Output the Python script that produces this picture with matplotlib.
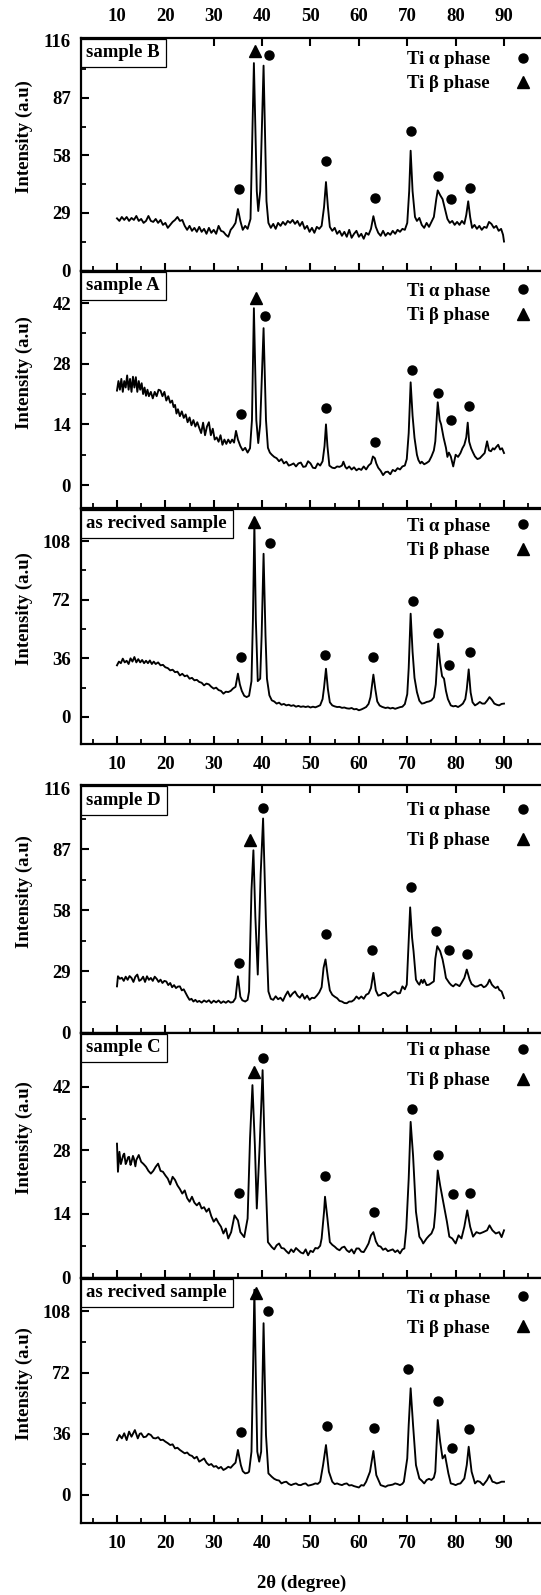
import matplotlib.pyplot as plt
from matplotlib.lines import Line2D

plt.rcParams['font.family'] = ['Liberation Serif', 'DejaVu Serif']
plt.rcParams['font.weight'] = 'bold'
plt.rcParams['font.size'] = 13

# ---- sample B ----
x_b = [10, 10.5, 11, 11.5, 12, 12.5, 13, 13.5, 14, 14.5, 15, 15.5, 16, 16.5, 17, 17.5, 18, 18.5, 19, 19.5,
       20, 20.5, 21, 21.5, 22, 22.5, 23, 23.5, 24, 24.5, 25, 25.5, 26, 26.5, 27, 27.5, 28, 28.5, 29, 29.5,
       30, 30.5, 31, 31.5, 32, 32.5, 33, 33.5, 34, 34.5, 35, 35.5, 36, 36.5, 37, 37.6, 38.3, 38.9, 39.2, 39.6,
       40.3, 40.9, 41.3, 41.8, 42.3, 42.8, 43.3, 43.8, 44.3, 44.8, 45.3, 45.8, 46.3, 46.8, 47.3, 47.8, 48.3, 48.8,
       49.3, 49.8, 50.3, 50.8, 51.3, 51.8, 52.3, 52.8, 53.2, 53.6, 54, 54.5, 55, 55.5, 56, 56.5, 57, 57.5, 58,
       58.5, 59, 59.5, 60, 60.5, 61, 61.5, 62, 62.5, 63, 63.5, 64, 64.5, 65, 65.5, 66, 66.5, 67, 67.5, 68, 68.5,
       69, 69.5, 70, 70.4, 70.7, 71.1, 71.6, 72, 72.5, 73, 73.5, 74, 74.5, 75, 75.5, 76, 76.3, 76.8, 77.3, 77.8,
       78.3, 78.8, 79.3, 79.8, 80.3, 80.8, 81.3, 81.8, 82.2, 82.6, 83, 83.4, 83.9, 84.4, 84.9, 85.4, 85.9, 86.4,
       86.9, 87.4, 87.9, 88.4, 88.9, 89.4, 89.8, 90]
y_b = [26.3, 25, 27, 25.5, 27, 25, 26.5, 25.5, 27.5, 25, 26, 24, 25, 27.5, 25, 24.5, 26, 24, 25.5, 23,
       24, 21.5, 23, 24.5, 25.5, 27, 25, 25.5, 22.5, 20.5, 22.5, 20, 21.5, 19.5, 22, 19.5, 21, 18.5, 21.5, 19,
       20.5, 18.5, 22.5, 20, 19.5, 18, 17, 20.5, 22, 24, 31, 25, 20.5, 22.5, 21, 26, 104.6, 40, 30, 40,
       103.3, 35, 24, 21.5, 23.5, 21, 24, 22.5, 24.5, 23, 25, 24, 25.5, 23.5, 25, 22.5, 24.5, 21,
       22.5, 19.5, 21.5, 19, 22, 21, 22.5, 32, 44.6, 32, 22, 20, 21.5, 18.5, 20, 17.5, 19.5, 17, 20.5,
       16.5, 18.5, 20, 17, 18.5, 16, 19, 18, 21, 27.4, 22, 19, 17.5, 20, 17.5, 19, 18, 20, 18.5, 20.5, 19.5,
       21, 20.5, 24, 40, 60.4, 40, 27, 25, 26.5, 23, 21.5, 24, 22, 24.5, 27, 36, 40.4, 38, 36, 31,
       26, 24, 25, 23, 24.5, 23, 25, 23.5, 28, 34.9, 27, 21.5, 23, 21, 22.5, 20.5, 22, 21.5,
       24.5, 23.5, 21.5, 22.5, 20, 21, 18, 14.6]
alpha_x_b = [35.2, 41.5, 53.3, 63.3, 70.7, 76.3, 79.0, 83.0]
alpha_y_b = [40.9, 108.8, 55.4, 36.6, 70.1, 47.9, 36.3, 41.8]
beta_x_b = [38.6]
beta_y_b = [110.9]

# ---- sample A ----
x_a = [10, 10.3, 10.6, 10.9, 11.2, 11.5, 11.8, 12.1, 12.4, 12.7, 13, 13.3, 13.6, 13.9, 14.2, 14.5, 14.8, 15.1,
       15.4, 15.7, 16, 16.3, 16.6, 17, 17.4, 17.8, 18.2, 18.6, 19, 19.4, 19.8, 20.2, 20.6, 21, 21.4, 21.7, 22,
       22.3, 22.6, 23, 23.4, 23.8, 24.2, 24.6, 25, 25.4, 25.8, 26.2, 26.6, 27, 27.4, 27.8, 28.2, 28.6, 29, 29.4,
       29.8, 30.2, 30.6, 31, 31.4, 31.8, 32.2, 32.6, 33, 33.4, 33.8, 34.2, 34.6, 35, 35.5, 36, 36.5, 37, 37.5,
       37.9, 38.3, 38.8, 39.2, 39.6, 40.3, 40.8, 41.2, 41.6, 42, 42.5, 43, 43.5, 44, 44.5, 45, 45.5, 46, 46.5,
       47, 47.5, 48, 48.5, 49, 49.5, 50, 50.5, 51, 51.5, 52, 52.5, 52.9, 53.2, 53.5, 53.9, 54.5, 55, 55.5, 56,
       56.5, 56.8, 57.2, 57.5, 58, 58.5, 59, 59.5, 60, 60.5, 61, 61.5, 62, 62.5, 62.9, 63.3, 63.6, 64, 64.5,
       65, 65.5, 66, 66.5, 67, 67.5, 68, 68.5, 69, 69.5, 69.9, 70.3, 70.7, 71.1, 71.5, 72, 72.3, 72.7, 73,
       73.5, 74, 74.5, 75, 75.5, 75.8, 76.3, 76.7, 77, 77.5, 78, 78.3, 78.6, 79, 79.5, 80, 80.5, 81, 81.4,
       81.8, 82.2, 82.5, 82.8, 83.2, 83.6, 84, 84.5, 85, 85.5, 86, 86.5, 86.9, 87.3, 87.7, 88, 88.4, 88.8,
       89.2, 89.6, 90]
y_a = [21.8, 24, 22, 24.5, 21.5, 24, 22.5, 25.3, 22, 24.5, 21.5, 25, 22.5, 24.9, 21.5, 24, 22, 23.5,
       21, 22.5, 20.6, 22, 20.5, 21.5, 20, 21.5, 20.5, 22, 21.8, 20.5, 21.5, 19.5, 20.5, 19, 19.5, 18, 18.5,
       16.5, 17.5, 15.9, 17, 15.5, 16.3, 14.5, 15.6, 13.8, 15, 13.5, 14.5, 13.2, 12, 14.4, 11.5, 13.5, 14.5, 11.5,
       13, 10.5, 11, 10, 11.5, 9.3, 10.5, 9.5, 10.5, 9.7, 10.5, 9.8, 12.5, 10.5, 9, 8, 8.6, 7.5, 8.5,
       15, 40.8, 15, 9.7, 14, 36.2, 15, 8.6, 7.5, 7, 6.5, 6.2, 5.5, 6, 5, 5.4, 4.5, 4.7, 5,
       4.3, 5, 5.2, 4.2, 4.3, 5.5, 5, 4, 3.9, 5, 4.5, 5.5, 9, 14, 9, 4.5, 4, 3.9, 4.3, 4.2,
       4.5, 5.4, 4.2, 3.8, 4.3, 3.6, 4.1, 3.4, 3.8, 3.5, 4.3, 3.6, 4.5, 5, 6.6, 6.2, 5, 4, 3.3,
       2.3, 3, 3.1, 2.5, 3.5, 3.2, 3.9, 3.6, 4.3, 4.5, 6, 12, 23.7, 16, 10.9, 7, 5.8, 5, 5.4,
       4.8, 5.1, 5.5, 6.6, 8, 10.1, 19.1, 15, 14, 11, 8.6, 6.5, 7.5, 6.6, 4.3, 7, 6.5, 7.4, 8.5,
       9.3, 11, 14.4, 10, 8.5, 7.5, 6.6, 6, 6.2, 6.8, 7.4, 10.1, 8, 7.8, 8.5, 8.2, 8.8, 9.3,
       8.2, 8.5, 7.4]
alpha_x_a = [35.6, 40.6, 53.3, 63.3, 70.9, 76.3, 79.0, 82.7]
alpha_y_a = [16.3, 39.1, 17.7, 10.0, 26.6, 21.2, 15.0, 18.3]
beta_x_a = [38.65]
beta_y_a = [43.2]

# ---- as recived sample (upper group) ----
x_r1 = [10, 10.4, 10.8, 11.2, 11.6, 12, 12.4, 12.8, 13.2, 13.6, 14, 14.4, 14.8, 15.2, 15.6, 16, 16.4, 16.8,
        17.2, 17.6, 18, 18.5, 19, 19.5, 20, 20.5, 21, 21.5, 22, 22.5, 23, 23.5, 24, 24.5, 25, 25.5, 26, 26.5,
        27, 27.5, 28, 28.5, 29, 29.5, 30, 30.5, 31, 31.5, 32, 32.5, 33, 33.5, 34, 34.5, 35, 35.4, 35.8, 36.3,
        36.8, 37.3, 37.8, 38.1, 38.4, 38.7, 39.1, 39.6, 39.9, 40.3, 40.7, 41, 41.5, 42, 42.5, 43, 43.5, 44,
        44.5, 45, 45.5, 46, 46.5, 47, 47.5, 48, 48.5, 49, 49.5, 50, 50.5, 51, 51.5, 52, 52.5, 52.8, 53.2, 53.6,
        54, 54.5, 55, 55.5, 56, 56.5, 57, 57.5, 58, 58.5, 59, 59.5, 60, 60.5, 61, 61.5, 62, 62.4, 63, 63.4,
        63.8, 64.3, 64.8, 65.5, 66, 66.5, 67, 67.5, 68, 68.5, 69, 69.5, 70, 70.3, 70.7, 71.1, 71.5, 72, 72.5,
        73, 73.5, 74, 74.5, 75, 75.5, 75.9, 76.4, 76.8, 77.2, 77.6, 78, 78.4, 79, 79.5, 80, 80.5, 81, 81.5,
        82, 82.3, 82.7, 83.1, 83.5, 84, 84.5, 85, 85.5, 86, 86.5, 87, 87.5, 88, 88.5, 89, 89.5, 90]
y_r1 = [31.7, 34, 33, 35.8, 33.5, 34.5, 32.5, 36, 34, 36.8, 33.5, 35.5, 33.5, 35, 33, 34.5, 33, 34.7,
        32.5, 34, 32.5, 33.5, 31.7, 32, 30.5, 30, 28.6, 29, 27.5, 27.8, 25.5, 26.5, 25, 25.5, 23.5, 24, 22.5, 22.8,
        21.5, 21, 19.4, 20.5, 20, 18.5, 17.4, 18, 16.5, 16, 14.3, 15.5, 15.3, 16, 17.5, 18.5, 26.6, 20, 16, 13,
        12.2, 13, 22, 60, 119, 60, 22, 23.5, 50, 100.2, 50, 23.5, 13.3, 10.2, 9.5, 8.2, 8.8, 7.5,
        8, 7.1, 7.5, 6.8, 7.2, 6.3, 6.8, 6.2, 6.5, 6.1, 6.5, 5.8, 6.3, 5.9, 6.5, 7.2, 11, 18, 29.6, 17,
        9, 7.1, 6.5, 6.1, 6.2, 5.6, 5.8, 5.3, 5.1, 5.5, 4.7, 4.9, 4.1, 4.6, 5.3, 6.1, 8, 12.2, 26, 17,
        9.5, 7, 6.2, 5.5, 5.8, 5.2, 5.6, 5, 5.5, 6, 6.3, 7.9, 14, 30, 63.4, 40, 24, 15.3, 10,
        8.2, 8.5, 9.2, 9.5, 10.2, 12, 20, 45, 33, 25, 23.5, 16, 11, 7.1, 6.5, 6.8, 6.1, 7, 8.2,
        11, 17, 29.2, 15, 9, 7.1, 8, 9.2, 8.2, 8.2, 10, 12.2, 10.5, 8.2, 7.5, 7.1, 8, 8.2]
alpha_x_r1 = [35.6, 41.6, 53.0, 63.0, 71.1, 76.4, 78.7, 83.0]
alpha_y_r1 = [36.8, 106.9, 38.2, 36.8, 70.9, 51.5, 31.7, 39.9]
beta_x_r1 = [38.4]
beta_y_r1 = [119.6]

# ---- sample D ----
x_d = [10, 10.2, 10.6, 11, 11.4, 11.8, 12.2, 12.6, 13, 13.4, 13.8, 14.2, 14.6, 15, 15.4, 15.8, 16.2, 16.6,
       17, 17.4, 17.8, 18.2, 18.6, 19, 19.4, 19.8, 20.2, 20.6, 21, 21.4, 21.8, 22.2, 22.6, 23, 23.4, 23.8,
       24.2, 24.6, 25, 25.4, 25.8, 26.2, 26.6, 27, 27.5, 28, 28.5, 29, 29.5, 30, 30.5, 31, 31.5, 32, 32.5, 33,
       33.5, 34, 34.5, 35, 35.5, 35.9, 36.5, 37, 37.3, 37.8, 38.2, 38.6, 39.1, 39.7, 40.2, 40.8, 41.3, 41.8,
       42.3, 42.8, 43.3, 43.8, 44.3, 44.8, 45.3, 45.8, 46.3, 46.8, 47.3, 47.8, 48.3, 48.8, 49.3, 49.8, 50.3,
       50.8, 51.3, 51.8, 52.3, 52.7, 53.1, 53.6, 54, 54.5, 55, 55.5, 56, 56.5, 57, 57.5, 58, 58.5, 59, 59.5,
       60, 60.5, 61, 61.5, 62, 62.5, 63, 63.5, 64, 64.5, 65, 65.5, 66, 66.5, 67, 67.5, 68, 68.5, 69, 69.5,
       69.9, 70.3, 70.6, 71, 71.3, 71.8, 72.2, 72.5, 72.9, 73.2, 73.5, 74, 74.5, 75, 75.5, 75.8, 76.2, 76.8,
       77.3, 77.7, 78, 78.7, 79.1, 79.5, 80, 80.3, 80.8, 81.2, 81.8, 82.3, 82.9, 83.3, 83.5, 84, 84.5, 85,
       85.3, 85.8, 86.2, 86.6, 87, 87.5, 88, 88.3, 88.7, 89, 89.5, 90]
y_d = [21.9, 26.7, 25.5, 26, 24.5, 26.5, 25, 26.8, 25.9, 24, 26.5, 27.5, 24.5, 25.1, 26.5, 24, 26.7, 25,
       25.9, 24.5, 26.5, 25.5, 24, 25.1, 23.5, 24.5, 24.2, 22.5, 23.5, 21.5, 22.5, 21.1, 21.8, 21.9, 20, 20.5,
       18.7, 17, 15.5, 16, 14.7, 15.5, 14.5, 15, 14.2, 15.2, 14.5, 15.3, 14, 15.1, 14.3, 15.2, 14, 14.8, 14.1, 15,
       14.2, 14.5, 16.3, 26.7, 17, 15.3, 14.7, 15.5, 19.5, 67.4, 86.5, 55, 27.5, 75.3, 101.6, 51.4, 19.5, 16,
       15.5, 17.2, 15.8, 16.5, 15, 17.5, 19.5, 17, 18.5, 19.5, 17.5, 16.5, 18.3, 16, 17.5, 15.5, 16.5,
       16.3, 17.5, 19, 21.5, 30.7, 34.7, 26, 20, 17.9, 17, 16.3, 15, 14.7, 14, 13.9, 14.7, 14.7, 15.5, 17.1,
       16, 17.1, 16, 17.9, 18.5, 21.1, 28.3, 20, 17.5, 17.9, 18.8, 18.7, 17.2, 17.9, 19, 19.5, 18.5, 18.7, 21.9, 20.5,
       22.7, 43.4, 59.4, 45, 38.6, 25.1, 23.5, 22.7, 25, 23.5, 25.1, 22.5, 22.7, 23.5, 24.3, 35, 41, 38.6,
       34.7, 30, 25.9, 23.5, 22.5, 21.9, 23, 22.7, 22, 23.5, 25.9, 29.9, 25.1, 23, 22.7, 21.8, 21.9, 22.5,
       22.7, 21.5, 21.9, 23, 25.1, 22.7, 21.5, 21.1, 21.8, 20.3, 19.5, 16.3]
alpha_x_d = [35.2, 40.2, 53.2, 62.8, 70.7, 75.9, 78.7, 82.3]
alpha_y_d = [33.1, 106.4, 46.9, 39.0, 69.0, 48.2, 39.0, 37.5]
beta_x_d = [37.55]
beta_y_d = [91.6]

# ---- sample C ----
x_c = [10, 10.2, 10.5, 10.8, 11, 11.3, 11.5, 11.8, 12, 12.3, 12.5, 12.8, 13, 13.3, 13.5, 13.8, 14, 14.5, 15,
       15.5, 16, 16.5, 17, 17.5, 18, 18.5, 19, 19.5, 20, 20.5, 21, 21.5, 22, 22.5, 23, 23.5, 24, 24.5, 25,
       25.5, 26, 26.5, 27, 27.5, 28, 28.5, 29, 29.5, 30, 30.5, 31, 31.5, 32, 32.5, 33, 33.6, 34.3, 35, 35.5,
       36.3, 37, 37.5, 38, 38.5, 38.9, 39.5, 40.1, 40.6, 41.2, 42, 42.5, 43, 43.5, 44, 44.5, 45, 45.5, 46,
       46.5, 47, 47.5, 48, 48.5, 49, 49.5, 50, 50.5, 51, 51.5, 52, 52.3, 52.8, 53, 53.5, 54, 54.5, 55, 55.5,
       56, 56.5, 57, 57.5, 58, 58.5, 59, 59.5, 60, 60.5, 61, 61.5, 62, 62.5, 63, 63.5, 64, 64.5, 65, 65.5, 66,
       66.5, 67, 67.5, 68, 68.5, 69, 69.4, 69.8, 70.3, 70.7, 71.2, 71.8, 72.5, 73, 73.3, 74, 74.5, 75, 75.5,
       75.8, 76.3, 76.8, 77.5, 78.2, 78.7, 79.3, 80, 80.6, 81.2, 81.8, 82.4, 83, 83.6, 84.3, 85, 85.7, 86.5,
       87, 87.6, 88.3, 89, 89.5, 90]
y_c = [29.5, 23.3, 27.7, 25, 25.8, 27, 27.3, 25, 25.5, 26.5, 26.6, 24.8, 25.5, 26.8, 26.2, 24.5, 25.9, 27, 25.5,
       25, 24.4, 23.5, 22.9, 23.5, 24.4, 25.1, 23.5, 23.3, 22.5, 21.8, 20.5, 22.2, 21.5, 20.3, 19.5, 18.5, 19.2, 17.5, 16.7,
       17.8, 16.5, 15.9, 16.5, 15.2, 15.5, 14.5, 15.2, 13.5, 12.3, 13, 12, 11.2, 9.7, 10.8, 8.6, 10, 13.7, 12.6, 10,
       8.9, 13, 30.6, 42.4, 29.2, 15.2, 29.2, 45.7, 25.5, 7.8, 6.7, 6.2, 7.1, 7.5, 6.5, 6.4, 5.8, 5.3, 6.2,
       5.6, 6.5, 6, 5.5, 5.3, 6.2, 4.9, 5.9, 5.6, 6.5, 6.4, 7, 8.6, 14.5, 17.8, 13, 7.8, 7.2, 6.8, 6.3,
       6, 6.6, 6.8, 6, 5.6, 6.2, 5.3, 6.4, 6.4, 5.7, 5.6, 6.5, 7.5, 9.3, 10, 8, 7, 6.8, 6.1, 6.4, 5.8,
       6, 6.2, 5.6, 6, 5.3, 6.2, 6.4, 10.8, 21.8, 34.3, 26.9, 14.5, 9, 8.2, 7.5, 8.6, 9.2, 9.7, 11,
       14.5, 23.6, 20.3, 16.3, 12.3, 9, 8.6, 7.5, 9.3, 8.6, 11.2, 14.8, 11.2, 9, 10, 9.7, 10, 10.4,
       11.5, 10.4, 9.7, 10, 8.9, 10.4]
alpha_x_c = [35.2, 40.2, 52.9, 63.1, 70.9, 76.4, 79.4, 83.0]
alpha_y_c = [18.7, 48.4, 22.4, 14.5, 37.1, 27.0, 18.3, 18.7]
beta_x_c = [38.3]
beta_y_c = [45.3]

# ---- as recived sample (lower group) ----
x_r2 = [10, 10.5, 11, 11.5, 12, 12.5, 13, 13.7, 14.3, 14.7, 15, 15.5, 16, 16.5, 17, 17.5, 18, 18.5, 19, 19.5,
        20, 20.5, 21, 21.5, 22, 22.5, 23, 23.5, 24, 24.5, 25, 25.5, 26, 26.5, 27, 27.5, 28, 28.5, 29, 29.5, 30,
        30.5, 31, 31.5, 32, 32.5, 33, 33.5, 34, 34.5, 35, 35.6, 36, 36.5, 37, 37.3, 37.8, 38.1, 38.4, 38.7, 39,
        39.4, 39.8, 40.3, 40.8, 41.3, 42, 42.5, 43, 43.5, 44, 44.5, 45, 45.5, 46, 46.5, 47, 47.5, 48, 48.5, 49,
        49.5, 50, 50.5, 51, 51.5, 52, 52.6, 53.2, 53.8, 54.5, 55, 55.5, 56, 56.5, 57, 57.5, 58, 58.5, 59, 59.5,
        60, 60.5, 61, 61.5, 62.3, 63, 63.6, 64.5, 65, 65.5, 66, 66.5, 67, 67.5, 68, 68.5, 69, 69.3, 70, 70.3,
        70.7, 71.2, 71.8, 72.5, 73, 73.5, 74, 74.5, 75, 75.5, 75.8, 76.3, 76.8, 77.3, 77.8, 78.5, 79, 79.5, 80,
        80.5, 81, 81.8, 82.3, 82.7, 83.3, 84, 84.5, 85, 85.7, 86.5, 87, 87.6, 88, 88.5, 89, 89.5, 90]
y_r2 = [32.3, 35.3, 33.3, 36.3, 32.3, 37.3, 34.3, 38.2, 33.3, 36, 36.3, 34, 34.3, 36, 35.3, 33.5, 33.3, 34, 32.3, 32.5,
        31.4, 30.5, 29.4, 29.8, 27.4, 27.8, 26.5, 25.5, 24.5, 25, 23.5, 23, 21.5, 22.5, 19.6, 20.5, 21.5, 19, 17.6, 18.2, 16.6,
        17, 15.6, 16.5, 14.7, 15.5, 16.6, 16, 17.6, 19, 26.5, 17.6, 14, 12.7, 13, 13.7, 25.5, 70, 120.8, 70, 25.5,
        19.6, 25.5, 101.1, 35.3, 12.7, 10.7, 9.5, 8.8, 8.5, 6.8, 7.5, 7.8, 6.5, 5.8, 6.4, 6.8, 5.9, 5.8, 6.5, 6.8,
        5.5, 5.8, 6.2, 6.8, 6.5, 7.8, 17.6, 29.4, 13.7, 7.8, 6.4, 6.8, 6.2, 5.8, 6.5, 6.8, 5.6, 5.8, 5.2, 4.8,
        4.4, 5.8, 5.5, 7.8, 13.7, 25.9, 11.7, 5.8, 5.3, 4.8, 5.6, 5.8, 6.1, 6.8, 6.4, 5.8, 6.6, 7.8, 21.5, 41.2,
        62.8, 41.2, 17.6, 9.7, 8.4, 6.8, 8.8, 9.5, 8.8, 10.2, 13.7, 44.1, 31.4, 21.5, 23.5, 12.7, 6.8, 6.4, 5.8,
        6.5, 6.8, 9.7, 17.6, 28.4, 13.7, 6.8, 8.2, 7.8, 5.8, 8.8, 11.7, 7.8, 7.5, 6.8, 7.2, 7.8, 7.8]
alpha_x_r2 = [35.6, 41.2, 53.5, 63.1, 70.2, 76.3, 79.3, 82.8]
alpha_y_r2 = [37.3, 108.4, 40.8, 39.6, 74.0, 55.5, 27.4, 38.6]
beta_x_r2 = [38.65]
beta_y_r2 = [118.8]

labels = ['sample B', 'sample A', 'as recived sample', 'sample D', 'sample C', 'as recived sample']
x_ticks = [10, 20, 30, 40, 50, 60, 70, 80, 90]
x_minor = [5, 15, 25, 35, 45, 55, 65, 75, 85, 95]
ticks_116 = [0, 29, 58, 87, 116]
ticks_42 = [0, 14, 28, 42]
ticks_108 = [0, 36, 72, 108]

W, H = 541, 1595
fig = plt.figure(figsize=(W / 100, H / 100), dpi=100)

# top px, bottom px, data, ylim, ticks, legend top (axes frac), legend row spacing, x tick mode
panels = [
    (37.5, 270.5, x_b, y_b, alpha_x_b, alpha_y_b, beta_x_b, beta_y_b, (0, 117.5), ticks_116, 0.942, 0.38, 'top'),
    (270.5, 508.5, x_a, y_a, alpha_x_a, alpha_y_a, beta_x_a, beta_y_a, (-5.4, 49.5), ticks_42, 0.948, 0.38, ''),
    (508.5, 743.5, x_r1, y_r1, alpha_x_r1, alpha_y_r1, beta_x_r1, beta_y_r1, (-16.3, 128), ticks_108, 0.960, 0.38, 'bottom'),
    (785, 1032.5, x_d, y_d, alpha_x_d, alpha_y_d, beta_x_d, beta_y_d, (0, 117.5), ticks_116, 0.930, 0.68, 'topticks'),
    (1032.5, 1277.5, x_c, y_c, alpha_x_c, alpha_y_c, beta_x_c, beta_y_c, (0, 54), ticks_42, 0.960, 0.68, ''),
    (1277.5, 1523, x_r2, y_r2, alpha_x_r2, alpha_y_r2, beta_x_r2, beta_y_r2, (-16.5, 128), ticks_108, 0.951, 0.68, 'bottom'),
]

for i, (top, bot, xs, ys, axx, ayy, bxx, byy, ylim, yt, leg_y, lsp, mode) in enumerate(panels):
    ax = fig.add_axes([80.7 / W, 1 - bot / H, 486.2 / W, (bot - top) / H])
    ax.plot(xs, ys, color='black', lw=1.35)
    ax.plot(axx, ayy, 'o', color='black', ms=6.5, ls='none')
    ax.plot(bxx, byy, '^', color='black', ms=9, ls='none')
    ax.set_xlim(2.5, 103)
    ax.set_ylim(*ylim)
    ax.set_xticks(x_ticks)
    ax.set_xticks(x_minor, minor=True)
    ax.set_yticks(yt)
    step = yt[1] - yt[0]
    ax.set_yticks([v + step / 2 for v in yt if v + step / 2 < ylim[1]], minor=True)
    for s in ax.spines.values():
        s.set_linewidth(1.6)
    ax.tick_params(which='major', direction='in', length=6, width=1.5, labelsize=13.5, pad=7)
    ax.tick_params(which='minor', direction='in', length=3.5, width=1.3)
    ax.tick_params(axis='x', top=mode in ('top', 'topticks'), labeltop=(mode == 'top'),
                   labelbottom=(mode == 'bottom'), pad=9)
    ax.set_ylabel('Intensity (a.u)', fontsize=13.5, fontweight='bold')
    ax.yaxis.set_label_coords(-0.098, 0.5 + 17 / (bot - top))
    ax.annotate(labels[i], xy=(0, 1), xycoords='axes fraction', xytext=(4, -5), textcoords='offset points',
                ha='left', va='top', fontsize=13.5, fontweight='bold',
                bbox=dict(boxstyle='square,pad=0.3', fc='white', ec='black', lw=0.9))
    handles = [Line2D([], [], marker='o', color='black', ls='none', ms=6.5),
               Line2D([], [], marker='^', color='black', ls='none', ms=9)]
    ax.legend(handles, ['Ti α phase', 'Ti β phase'], loc='upper right', bbox_to_anchor=(0.93, leg_y),
              frameon=False, markerfirst=False, borderpad=0, borderaxespad=0, handlelength=1.0,
              handletextpad=1.3, labelspacing=lsp, prop=dict(weight='bold', size=13.5))

fig.text(302 / W, 1 - 1583 / H, '2θ (degree)', ha='center', va='center', fontsize=13.5, fontweight='bold')

fig.savefig('out.png', dpi=100)
